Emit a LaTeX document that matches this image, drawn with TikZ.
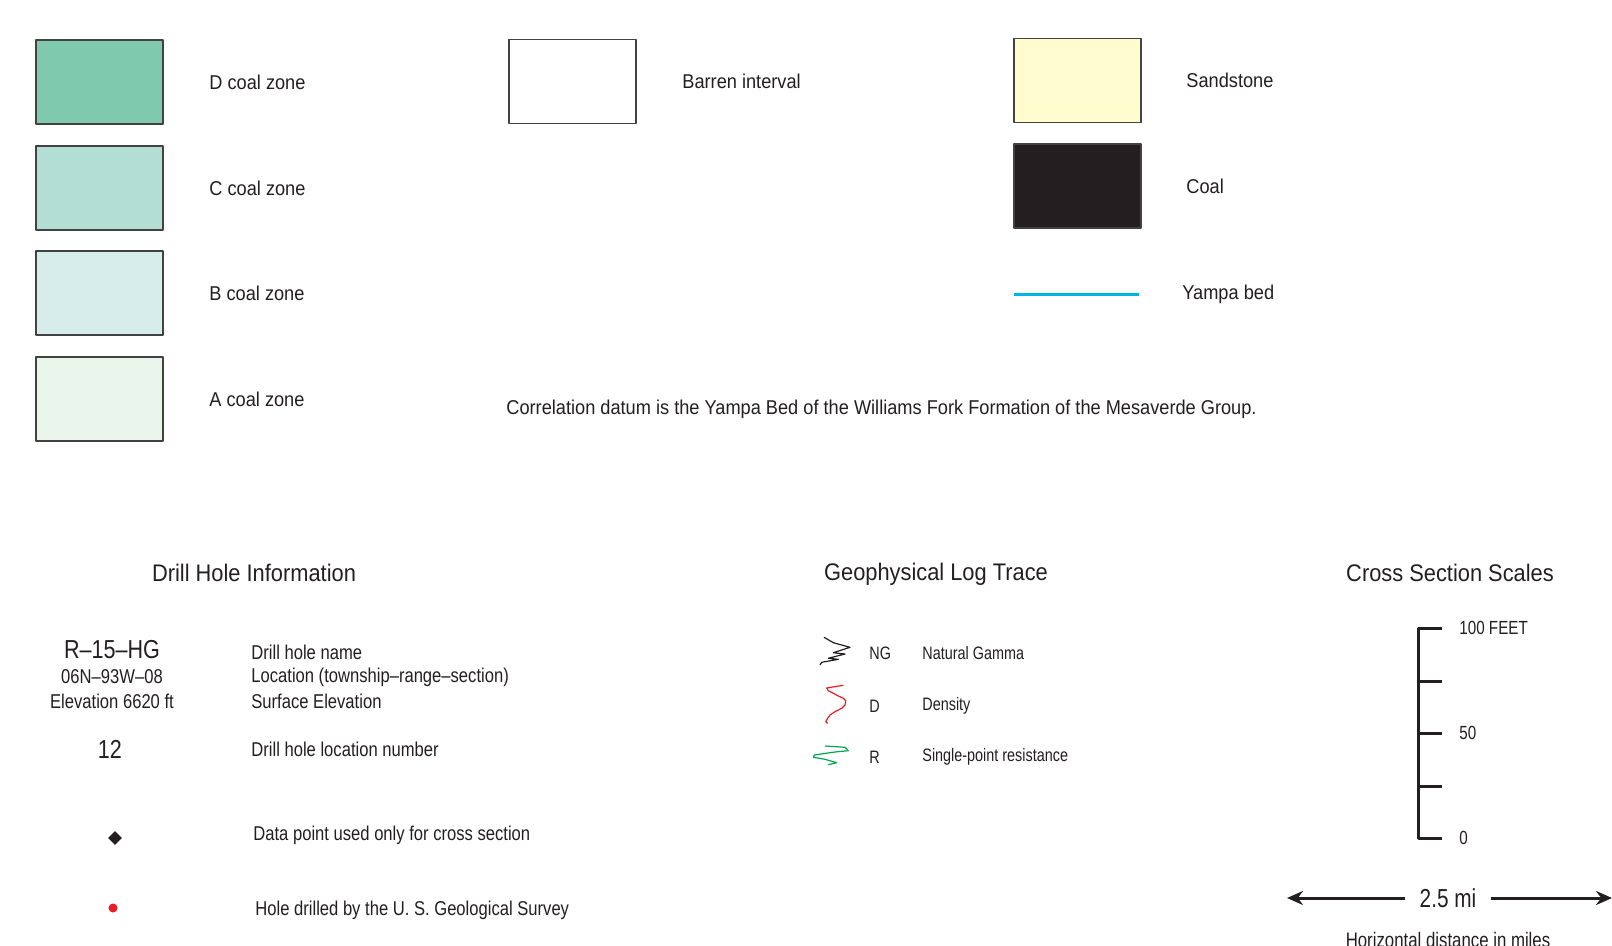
\documentclass[tikz,border=0pt]{standalone}
\usepackage{fontspec}
\setmainfont{Liberation Sans}[FakeStretch=0.91]
\newfontfamily\condfont{Liberation Sans}[FakeStretch=0.83, Ligatures=TeX]
\newfontfamily\logfont{Liberation Sans}[FakeStretch=0.8]
\usetikzlibrary{arrows.meta,shapes.geometric}

\definecolor{ink}{HTML}{231F20}
\definecolor{zoneD}{HTML}{7FCAAE}
\definecolor{zoneC}{HTML}{B3DED4}
\definecolor{zoneB}{HTML}{D7EDEA}
\definecolor{zoneA}{HTML}{E9F4EA}
\definecolor{sand}{HTML}{FFFDD0}
\definecolor{yampa}{HTML}{00B5E4}
\definecolor{logred}{HTML}{ED1C24}
\definecolor{loggreen}{HTML}{00A651}

\begin{document}
\begin{tikzpicture}[x=0.5pt, y=-0.5pt, line join=round, >=Stealth,
  swatch/.style={draw=ink!85, line width=0.9pt, minimum width=63.5pt, minimum height=42pt, inner sep=0pt},
  legend/.style={anchor=west, inner sep=0pt, text=ink, font=\fontsize{10}{12}\selectfont},
  heading/.style={inner sep=0pt, text=ink, font=\fontsize{12}{14}\selectfont},
  info/.style={anchor=west, inner sep=0pt, text=ink, font=\condfont\fontsize{10}{12}\selectfont},
  loglabel/.style={anchor=west, inner sep=0pt, text=ink, font=\logfont\fontsize{9}{11}\selectfont},
  trace/.style={line width=0.6pt}]
  \useasboundingbox (0,0) rectangle (1612,946);

  % Coal zone swatches, left column.
  \node[swatch, fill=zoneD] (boxD) at (99.5,82) {};
  \node[swatch, fill=zoneC] (boxC) at (99.5,188) {};
  \node[swatch, fill=zoneB] (boxB) at (99.5,293) {};
  \node[swatch, fill=zoneA] (boxA) at (99.5,399) {};
  \node[legend] (labD) at (209,82) {D coal zone};
  \node[legend] (labC) at (209,188) {C coal zone};
  \node[legend] (labB) at (209,293) {B coal zone};
  \node[legend] (labA) at (209,399) {A coal zone};

  % Middle and right columns.
  \node[swatch, fill=white] (boxBarren) at (572.5,81.5) {};
  \node[legend] (labBarren) at (682,81.5) {Barren interval};
  \node[swatch, fill=sand] (boxSand) at (1077.5,80.5) {};
  \node[legend] (labSand) at (1186,80.5) {Sandstone};
  \node[swatch, fill=ink] (boxCoal) at (1077.5,186) {};
  \node[legend] (labCoal) at (1186,186) {Coal};
  \coordinate (yampaL) at (1014,295);
  \coordinate (yampaR) at (1139,295);
  \draw[yampa, line width=1.5pt] (yampaL) -- (yampaR);
  \node[legend] (labYampa) at (1182,294) {Yampa bed};
  \node[legend] (datum) at (506,409) {Correlation datum is the Yampa Bed of the Williams Fork Formation of the Mesaverde Group.};

  % Section headings.
  \node[heading] (hdDrill) at (254,573) {Drill Hole Information};
  \node[heading] (hdLog) at (936,574) {Geophysical Log Trace};
  \node[heading] (hdScale) at (1450,573) {Cross Section Scales};

  % Drill hole information.
  \node[inner sep=0pt, text=ink, font=\condfont\fontsize{13}{15}\selectfont] (holeName) at (112,650) {R--15--HG};
  \node[inner sep=0pt, text=ink, font=\condfont\fontsize{10}{12}\selectfont] (holeLoc) at (112,677) {06N--93W--08};
  \node[inner sep=0pt, text=ink, font=\condfont\fontsize{10}{12}\selectfont] (holeElev) at (112,701) {Elevation 6620 ft};
  \node[inner sep=0pt, text=ink, font=\condfont\fontsize{13}{15}\selectfont] (holeNum) at (110,749) {12};
  \node[diamond, fill=ink, inner sep=0pt, minimum size=7pt] (dataPt) at (115,838) {};
  \node[circle, fill=logred, inner sep=0pt, minimum size=4.5pt] (usgsPt) at (113,908) {};
  \node[info] (descName) at (251,652) {Drill hole name};
  \node[info] (descLoc) at (251,677) {Location (township--range--section)};
  \node[info] (descElev) at (251,701) {Surface Elevation};
  \node[info] (descNum) at (251,749) {Drill hole location number};
  \node[info] (descData) at (253,835) {Data point used only for cross section};
  \node[info] (descUsgs) at (255,910) {Hole drilled by the U. S. Geological Survey};

  % Geophysical log traces.
  \draw[trace, ink] (824,637.3) -- (833.3,642.7) -- (850,647.3) -- (833.3,652.7) -- (845,654)
    -- (828.3,658.3) -- (838.3,659.3) -- (821.7,662.3) -- (820,665);
  \draw[trace, logred] (843.3,685.3) -- (826.7,688) -- (828.3,690.7) -- (833.3,693.3) -- (838.3,696)
    -- (843.3,698.3) -- (845.7,700.7) -- (845,705) -- (841.7,708.3) -- (835,711.7) -- (830,715)
    -- (827.7,718.3) -- (825.7,721.7) -- (827.7,723.3);
  \draw[trace, loggreen] (825,746) -- (845,747.3) -- (848.3,750.7) -- (835,752) -- (814.3,755)
    -- (813.3,757.3) -- (825,759.3) -- (836.7,762.7) -- (828.3,764.7);
  \node[loglabel] (codeNG) at (869,653) {NG};
  \node[loglabel] (codeD) at (869,706) {D};
  \node[loglabel] (codeR) at (869,757) {R};
  \node[loglabel] (nameNG) at (922,653) {Natural Gamma};
  \node[loglabel] (nameD) at (922,706) {Density};
  \node[loglabel] (nameR) at (922,757) {Single-point resistance};

  % Vertical scale.
  \draw[ink, line width=1.5pt] (1442,628) -- (1418,628) -- (1418,838) -- (1442,838);
  \foreach \y in {681,733,786}
    \draw[ink, line width=1.5pt] (1418,\y) -- (1442,\y);
  \node[loglabel, font=\logfont\fontsize{9.5}{11}\selectfont] (ft100) at (1459,628) {100 FEET};
  \node[loglabel, font=\logfont\fontsize{9.5}{11}\selectfont] (ft50) at (1459,733) {50};
  \node[loglabel, font=\logfont\fontsize{9.5}{11}\selectfont] (ft0) at (1459,838) {0};

  % Horizontal scale.
  \node[inner ysep=0pt, inner xsep=7pt, text=ink, font=\logfont\fontsize{13}{15}\selectfont] (dist) at (1448,898) {2.5 mi};
  \coordinate (distL) at (1287,898);
  \coordinate (distR) at (1612,898);
  \draw[ink, line width=1.5pt, -{Stealth[length=8pt,width=7pt]}] (dist.west) -- (distL);
  \draw[ink, line width=1.5pt, -{Stealth[length=8pt,width=7pt]}] (dist.east) -- (distR);
  \node[anchor=base, inner sep=0pt, text=ink, font=\logfont\fontsize{10.5}{12}\selectfont] (distNote) at (1448,947) {Horizontal distance in miles};
\end{tikzpicture}
\end{document}
